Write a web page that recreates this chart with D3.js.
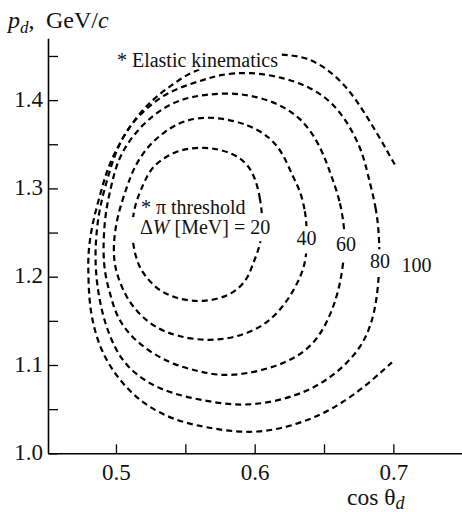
<!DOCTYPE html>
<html>
<head>
<meta charset="utf-8">
<script src="https://cdn.jsdelivr.net/npm/d3@7"></script>
<style>
  html, body { margin: 0; padding: 0; background: #fff; }
  svg { display: block; font-family: "Liberation Serif", "Times New Roman", Tinos, "DejaVu Serif", serif; }
</style>
</head>
<body>
<svg id="chart" width="462" height="512"></svg>
<script>
// ΔW levels (MeV) of the iso-contours in the (cos θd, pd) plane
const levels = [20, 40, 60, 80, 100];

// Contour points: [cos θd, pd in GeV/c]
const contour20 = [
  [0.606, 1.258], [0.6045, 1.287], [0.5988, 1.323], [0.5844, 1.341], [0.5634, 1.348],
  [0.5418, 1.343], [0.5252, 1.324], [0.5202, 1.306], [0.513, 1.281], [0.5108, 1.247],
  [0.5151, 1.215], [0.5216, 1.199], [0.5324, 1.182], [0.5469, 1.174], [0.5627, 1.171],
  [0.5822, 1.178], [0.5944, 1.195], [0.5988, 1.215], [0.6038, 1.234]
];
const contour40 = [
  [0.6377, 1.256], [0.6363, 1.276], [0.6327, 1.298], [0.6276, 1.313], [0.6204, 1.340],
  [0.611, 1.358], [0.5966, 1.372], [0.5714, 1.382], [0.549, 1.378], [0.5346, 1.364],
  [0.5224, 1.347], [0.513, 1.324], [0.5079, 1.302], [0.5007, 1.268], [0.4978, 1.234],
  [0.4993, 1.207], [0.5065, 1.179], [0.5151, 1.160], [0.5274, 1.143], [0.544, 1.132],
  [0.570, 1.126], [0.5988, 1.136], [0.6182, 1.159], [0.6327, 1.196], [0.6377, 1.222]
];
const contour60 = [
  [0.665, 1.253], [0.6615, 1.287], [0.6557, 1.312], [0.652, 1.329], [0.645, 1.355],
  [0.6327, 1.381], [0.616, 1.397], [0.5966, 1.406], [0.580, 1.408], [0.5634, 1.406],
  [0.549, 1.402], [0.5346, 1.392], [0.520, 1.374], [0.508, 1.351], [0.5007, 1.329],
  [0.4964, 1.302], [0.492, 1.270], [0.4906, 1.230], [0.492, 1.202], [0.4964, 1.177],
  [0.5007, 1.154], [0.5108, 1.132], [0.5252, 1.114], [0.5418, 1.100], [0.5613, 1.092],
  [0.5822, 1.086], [0.6182, 1.098], [0.642, 1.120], [0.6543, 1.154], [0.6615, 1.188],
  [0.665, 1.228]
];
const contour80 = [
  [0.690, 1.242], [0.688, 1.276], [0.682, 1.313], [0.678, 1.340], [0.669, 1.370],
  [0.6565, 1.397], [0.640, 1.415], [0.620, 1.426], [0.5966, 1.432], [0.575, 1.429],
  [0.5634, 1.423], [0.547, 1.415], [0.532, 1.404], [0.518, 1.385], [0.506, 1.363],
  [0.4986, 1.336], [0.4928, 1.306], [0.487, 1.270], [0.4849, 1.230], [0.4856, 1.202],
  [0.4877, 1.177], [0.4913, 1.151], [0.4986, 1.120], [0.508, 1.098], [0.5224, 1.080],
  [0.5397, 1.068], [0.5613, 1.060], [0.5944, 1.052], [0.6305, 1.064], [0.6565, 1.086],
  [0.678, 1.120], [0.687, 1.159], [0.690, 1.204]
];
const contour100 = [
  [0.701, 1.327], [0.690, 1.358], [0.678, 1.389], [0.6665, 1.415], [0.652, 1.436],
  [0.638, 1.448], [0.625, 1.451], [0.611, 1.453], [0.582, 1.445], [0.556, 1.434],
  [0.542, 1.419], [0.527, 1.402], [0.513, 1.378], [0.501, 1.347], [0.4935, 1.321],
  [0.489, 1.295], [0.4834, 1.264], [0.480, 1.230], [0.480, 1.208], [0.4805, 1.177],
  [0.483, 1.148], [0.489, 1.117], [0.4986, 1.091], [0.511, 1.068], [0.525, 1.051],
  [0.542, 1.038], [0.5613, 1.030], [0.602, 1.020], [0.642, 1.038], [0.6665, 1.060],
  [0.685, 1.083], [0.699, 1.103]
];
const contours = [contour20, contour40, contour60, contour80, contour100];
const closedContour = [true, true, true, true, false];

// Axis ticks
const xTicks = [0.5, 0.55, 0.6, 0.65, 0.7];
const xTickLabels = ["0.5", "", "0.6", "", "0.7"];
const yTicks = [1.0, 1.05, 1.1, 1.15, 1.2, 1.25, 1.3, 1.35, 1.4, 1.45];
const yTickLabels = ["1.0", "", "1.1", "", "1.2", "", "1.3", "", "1.4", ""];

// Contour value labels (ΔW in MeV) and where they sit: [cos θd, pd]
const levelLabels = ["40", "60", "80", "100"];
const levelLabelAt = [[0.6373, 1.2359], [0.6658, 1.2291], [0.6903, 1.2098], [0.7167, 1.2053]];

const serif = '"Liberation Serif", "Times New Roman", Tinos, "DejaVu Serif", serif';
const svg = d3.select("#chart");

const x = d3.scaleLinear().domain([0.451, 0.75]).range([48, 462.7]);
const y = d3.scaleLinear().domain([1.0, 1.47]).range([453.3, 38.3]);

// Axes, ticks pointing inward
const xAxis = d3.axisBottom(x)
  .tickValues(xTicks)
  .tickFormat((d, i) => xTickLabels[i])
  .tickSizeInner(-9).tickSizeOuter(0).tickPadding(10.5);
const yAxis = d3.axisLeft(y)
  .tickValues(yTicks)
  .tickFormat((d, i) => yTickLabels[i])
  .tickSizeInner(-10).tickSizeOuter(0).tickPadding(5);

const gx = svg.append("g").attr("transform", `translate(0,${y(1.0)})`).call(xAxis);
const gy = svg.append("g").attr("transform", `translate(${x(0.451)},0)`).call(yAxis);

[gx, gy].forEach(g => {
  g.attr("font-family", null).attr("font-size", null);
  g.select(".domain").attr("stroke", "#000").attr("stroke-width", 1.6);
  g.selectAll(".tick line").attr("stroke", "#000").attr("stroke-width", 1.3);
  g.selectAll(".tick text")
    .attr("fill", "#111")
    .style("font-family", serif)
    .style("font-size", "23px");
});
gx.selectAll(".tick text").attr("dy", "0.70em");
gy.selectAll(".tick text").attr("dy", "0.27em");

// Axis titles
const yTitle = svg.append("text").attr("x", 8).attr("y", 28)
  .style("font-family", serif).style("font-size", "24px").attr("fill", "#111");
yTitle.append("tspan").style("font-style", "italic").text("p");
yTitle.append("tspan").style("font-style", "italic").style("font-size", "17px")
  .attr("dy", 5).text("d");
yTitle.append("tspan").attr("dy", -5).text(",");
yTitle.append("tspan").attr("x", 46).text("GeV/");
yTitle.append("tspan").style("font-style", "italic").text("c");

const xTitle = svg.append("text").attr("x", 347).attr("y", 505)
  .style("font-family", serif).style("font-size", "23.5px").attr("fill", "#111");
xTitle.append("tspan").text("cos θ");
xTitle.append("tspan").style("font-style", "italic").style("font-size", "18px")
  .attr("dy", 4).text("d");

// Iso-ΔW contours, smoothed through the traced points
const lineOpen = d3.line().x(d => x(d[0])).y(d => y(d[1])).curve(d3.curveBasis);
const lineClosed = d3.line().x(d => x(d[0])).y(d => y(d[1])).curve(d3.curveBasisClosed);

svg.append("g").selectAll("path")
  .data(contours)
  .join("path")
  .attr("d", (d, i) => closedContour[i] ? lineClosed(d) : lineOpen(d))
  .attr("fill", "none")
  .attr("stroke", "#000")
  .attr("stroke-width", 2.2)
  .attr("stroke-dasharray", "6,4");

// Labels sit on opaque boxes so the dashes break behind them
const fs = 20;
const labelLayer = svg.append("g").style("font-family", serif).style("font-size", fs + "px");

function boxedLabel(px, py, anchor, build, pad) {
  const g = labelLayer.append("g");
  const rect = g.append("rect").attr("fill", "#fff");
  const t = g.append("text").attr("x", px).attr("y", py)
    .attr("text-anchor", anchor).attr("fill", "#111");
  build(t);
  const b = t.node().getBBox();
  rect.attr("x", b.x - pad[0])
    .attr("y", py - 0.74 * fs - pad[1])
    .attr("width", b.width + pad[0] + pad[2])
    .attr("height", 0.74 * fs + pad[1] + 0.12 * fs + pad[3]);
  return t;
}

boxedLabel(x(0.5007), y(1.4375), "start", t => t.text("* Elastic kinematics"), [1, 1, 1, 0]);
boxedLabel(x(0.518), y(1.2712), "start", t => t.text("* π threshold"), [0, 1, 1, 0]);
boxedLabel(x(0.5173), y(1.2485), "start", t => {
  t.append("tspan").text("Δ");
  t.append("tspan").style("font-style", "italic").text("W");
  t.append("tspan").text(" [MeV] = " + levels[0]);
}, [9, 2, 1, 5]);

levelLabels.forEach((lab, i) => {
  boxedLabel(x(levelLabelAt[i][0]), y(levelLabelAt[i][1]), "middle",
    t => t.text(lab), [2, 4, 2, 6]);
});
</script>
</body>
</html>
